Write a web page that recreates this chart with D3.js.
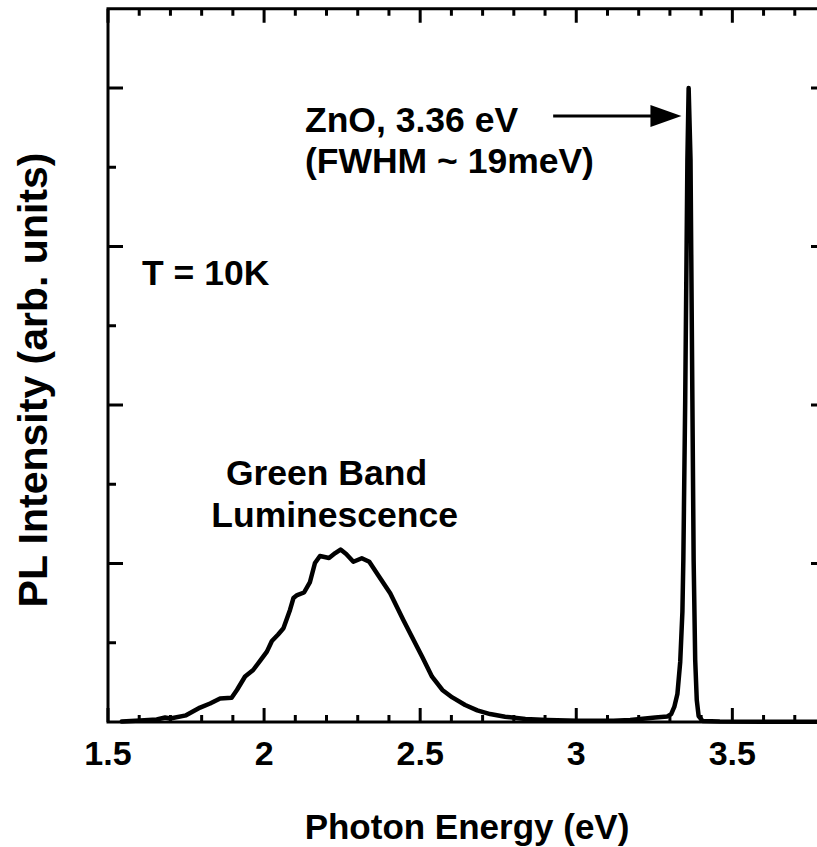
<!DOCTYPE html>
<html>
<head>
<meta charset="utf-8">
<script src="https://cdn.jsdelivr.net/npm/d3@7"></script>
<style>
  html, body { margin: 0; padding: 0; background: #fff; }
  svg { display: block; }
  text { font-family: "Liberation Sans", Arial, sans-serif; font-weight: bold; fill: #000; }
</style>
</head>
<body>
<svg id="chart" width="817" height="847"></svg>
<script>
// Photoluminescence spectrum of ZnO at 10 K
const energyEV = [
  1.544, 1.603, 1.656, 1.683, 1.699, 1.750, 1.795, 1.827, 1.859, 1.896,
  1.913, 1.939, 1.965, 1.987, 2.009, 2.025, 2.045, 2.062, 2.083, 2.094,
  2.106, 2.128, 2.147, 2.163, 2.179, 2.208, 2.228, 2.245, 2.263, 2.286,
  2.313, 2.337, 2.365, 2.404, 2.446, 2.487, 2.506, 2.538, 2.571, 2.603,
  2.644, 2.683, 2.724, 2.772, 2.837, 2.907, 3.003, 3.119, 3.173, 3.205,
  3.253, 3.292, 3.304, 3.314, 3.324, 3.333, 3.340, 3.343, 3.349, 3.356,
  3.360, 3.366, 3.372, 3.376, 3.381, 3.386, 3.392, 3.405, 3.460, 3.600,
  3.800
];
const plIntensity = [
  0.003, 0.009, 0.016, 0.028, 0.022, 0.042, 0.091, 0.117, 0.148, 0.153,
  0.202, 0.287, 0.328, 0.385, 0.444, 0.511, 0.552, 0.591, 0.707, 0.782,
  0.801, 0.817, 0.883, 1.003, 1.047, 1.035, 1.066, 1.088, 1.060, 1.011,
  1.033, 1.011, 0.927, 0.812, 0.644, 0.486, 0.413, 0.286, 0.202, 0.155,
  0.107, 0.073, 0.050, 0.033, 0.019, 0.013, 0.008, 0.008, 0.013, 0.019,
  0.028, 0.035, 0.050, 0.095, 0.177, 0.379, 0.694, 1.022, 2.030, 3.546,
  4.000, 3.546, 2.030, 1.022, 0.391, 0.139, 0.038, 0.006, 0.003, 0.002,
  0.002
];

const xMajorTicks = [1.5, 2, 2.5, 3, 3.5];
const xTickLabels = ["1.5", "2", "2.5", "3", "3.5"];
const xMinorTicks = d3.range(1.5, 3.81, 0.1).map(v => +v.toFixed(2));
const yMajorTicks = [0, 1, 2, 3, 4];
const yMinorTicks = [0.5, 1.5, 2.5, 3.5];

const xTitle = "Photon Energy (eV)";
const yTitle = "PL Intensity (arb. units)";
const peakLabel = ["ZnO, 3.36 eV", "(FWHM ~ 19meV)"];
const tempLabel = "T = 10K";
const bandLabel = ["Green Band", "Luminescence"];

const svg = d3.select("#chart");
const plotLeft = 108, plotRight = 826, plotTop = 8.75, plotBottom = 722;

const x = d3.scaleLinear().domain([1.5, 3.8]).range([plotLeft, plotRight]);
const y = d3.scaleLinear().domain([0, 4.5]).range([plotBottom, plotTop]);

const g = svg.append("g");

// tick marks on all four sides, pointing inward
function ticks(vals, len, side) {
  const sel = g.append("g").attr("stroke", "#000").attr("stroke-width", 3);
  vals.forEach(v => {
    if (side === "bottom") sel.append("line").attr("x1", x(v)).attr("x2", x(v)).attr("y1", plotBottom).attr("y2", plotBottom - len);
    if (side === "top") sel.append("line").attr("x1", x(v)).attr("x2", x(v)).attr("y1", plotTop).attr("y2", plotTop + len);
    if (side === "left") sel.append("line").attr("y1", y(v)).attr("y2", y(v)).attr("x1", plotLeft).attr("x2", plotLeft + len);
    if (side === "right") sel.append("line").attr("y1", y(v)).attr("y2", y(v)).attr("x1", plotRight).attr("x2", plotRight - len);
  });
}
const xMinorOnly = xMinorTicks.filter(v => !xMajorTicks.some(m => Math.abs(m - v) < 1e-6));
ticks(xMajorTicks, 14, "bottom"); ticks(xMinorOnly, 7, "bottom");
ticks(xMajorTicks, 14, "top"); ticks(xMinorOnly, 7, "top");
ticks(yMajorTicks.slice(1), 15, "left"); ticks(yMinorTicks, 8, "left");
ticks(yMajorTicks.slice(1), 15, "right"); ticks(yMinorTicks, 8, "right");

// spectrum
const pts = energyEV.map((e, i) => [e, plIntensity[i]]);
g.append("path")
  .datum(pts)
  .attr("fill", "none")
  .attr("stroke", "#000")
  .attr("stroke-width", 4.5)
  .attr("stroke-linejoin", "round")
  .attr("stroke-linecap", "round")
  .attr("d", d3.line().x(d => x(d[0])).y(d => y(d[1])));

// frame
g.append("rect")
  .attr("x", plotLeft).attr("y", plotTop)
  .attr("width", plotRight - plotLeft).attr("height", plotBottom - plotTop)
  .attr("fill", "none").attr("stroke", "#000").attr("stroke-width", 3);

// x tick labels
g.selectAll(".xl").data(xMajorTicks).enter().append("text")
  .attr("x", d => x(d)).attr("y", plotBottom + 43)
  .attr("text-anchor", "middle").attr("font-size", 34)
  .text((d, i) => xTickLabels[i]);

// axis titles
svg.append("text").attr("x", 467).attr("y", 839)
  .attr("text-anchor", "middle").attr("font-size", 35).text(xTitle);
svg.append("text")
  .attr("transform", "translate(47,380) rotate(-90)")
  .attr("text-anchor", "middle").attr("font-size", 41).text(yTitle);

// annotations
const ann = g.append("g").attr("font-size", 35.5);
ann.append("text").attr("x", x(2.131)).attr("y", y(3.72)).text(peakLabel[0]);
ann.append("text").attr("x", x(2.131)).attr("y", y(3.465)).text(peakLabel[1]);
ann.append("text").attr("x", x(1.609)).attr("y", y(2.76)).text(tempLabel);
ann.append("text").attr("x", x(2.2)).attr("y", y(1.495)).attr("text-anchor", "middle").text(bandLabel[0]);
ann.append("text").attr("x", x(2.226)).attr("y", y(1.23)).attr("text-anchor", "middle").text(bandLabel[1]);

// arrow pointing at the band-edge peak
const arrowY = y(3.823);
const tipX = x(3.337), tailX = x(2.926);
g.append("line").attr("x1", tailX).attr("x2", tipX - 28).attr("y1", arrowY).attr("y2", arrowY)
  .attr("stroke", "#000").attr("stroke-width", 3);
g.append("path")
  .attr("d", `M${tipX},${arrowY} L${tipX - 31},${arrowY - 11} L${tipX - 31},${arrowY + 11} Z`)
  .attr("fill", "#000");
</script>
</body>
</html>
